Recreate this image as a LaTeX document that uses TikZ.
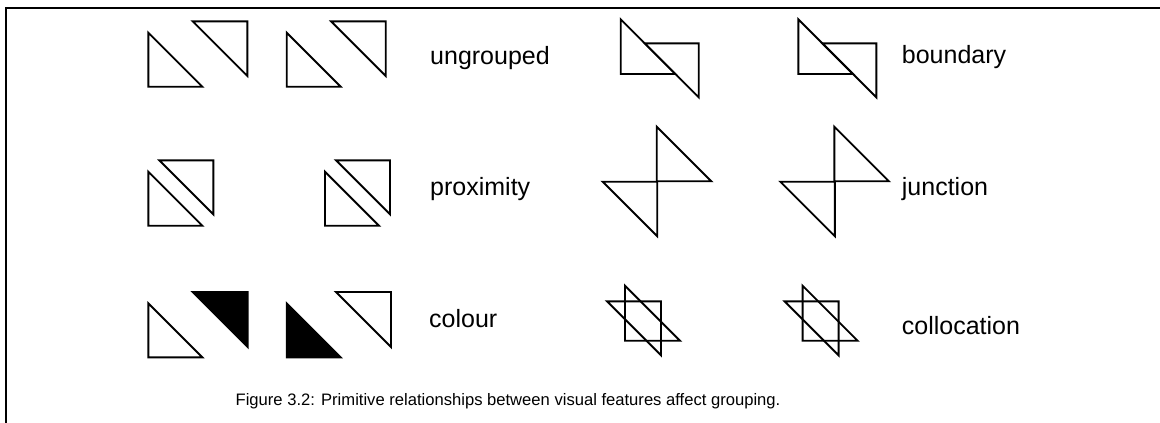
\documentclass[tikz,border=0pt]{standalone}
\usepackage{fontspec}
\setmainfont{Liberation Sans}
\tikzset{
  tri/.style={draw,line width=1.9pt,line join=miter},
  solid tri/.style={tri,fill=black},
  lab/.style={anchor=base west,inner sep=0pt,font=\fontsize{25}{30}\selectfont},
}
% triangle with the right angle at the bottom left / top right
\newcommand{\lowtri}[3][tri]{\draw[#1] (#2) -- ++(0,#3) -- ++(#3,0) -- cycle;}
\newcommand{\hightri}[3][tri]{\draw[#1] (#2) -- ++(#3,0) -- ++(0,#3) -- cycle;}
\begin{document}
\begin{tikzpicture}[x=1pt,y=-1pt]
	\useasboundingbox (0,0) rectangle (1160,423);
	\draw[line width=1.6pt] (1160,8) -- (6,8) -- (6,423);
	% ungrouped and colour
	\foreach \dx/\sa/\sb in {0/tri/tri,138.4/tri/tri} {
		\lowtri[\sa]{148.3+\dx,32.7}{54}
		\hightri[\sb]{192.7+\dx,21.3}{54.6}
	}
	\lowtri{148.3,303.3}{54} \hightri[solid tri]{192.7,292}{55}
	\lowtri[solid tri]{286.7,303.3}{54} \hightri{336,292}{55}
	% proximity
	\foreach \dx in {0,176.7} {
		\lowtri{148.3+\dx,171.7}{54}
		\hightri{159.3+\dx,160.3}{54}
	}
	% boundary, junction, collocation
	\foreach \dx in {0,177.6} {
		\lowtri{620.7+\dx,19.3}{54.7}
		\hightri{644.7+\dx,43.3}{54}
		\lowtri{656.7+\dx,126.7}{54.5}
		\hightri{602.7+\dx,181.7}{54.5}
		\lowtri{625+\dx,285.7}{55}
		\hightri{607+\dx,301.3}{54}
	}
	\node[lab] (ungrouped) at (430,64) {ungrouped};
	\node[lab] (proximity) at (430,195) {proximity};
	\node[lab] (colour) at (429,327) {colour};
	\node[lab] (boundary) at (901.7,63) {boundary};
	\node[lab] (junction) at (901.7,195) {junction};
	\node[lab] (collocation) at (901.7,334) {collocation};
	\node[anchor=base,inner sep=0pt,font=\fontsize{16.6}{20}\selectfont] (caption) at (508,405)
		{Figure 3.2: Primitive relationships between visual features affect grouping.};
\end{tikzpicture}
\end{document}
